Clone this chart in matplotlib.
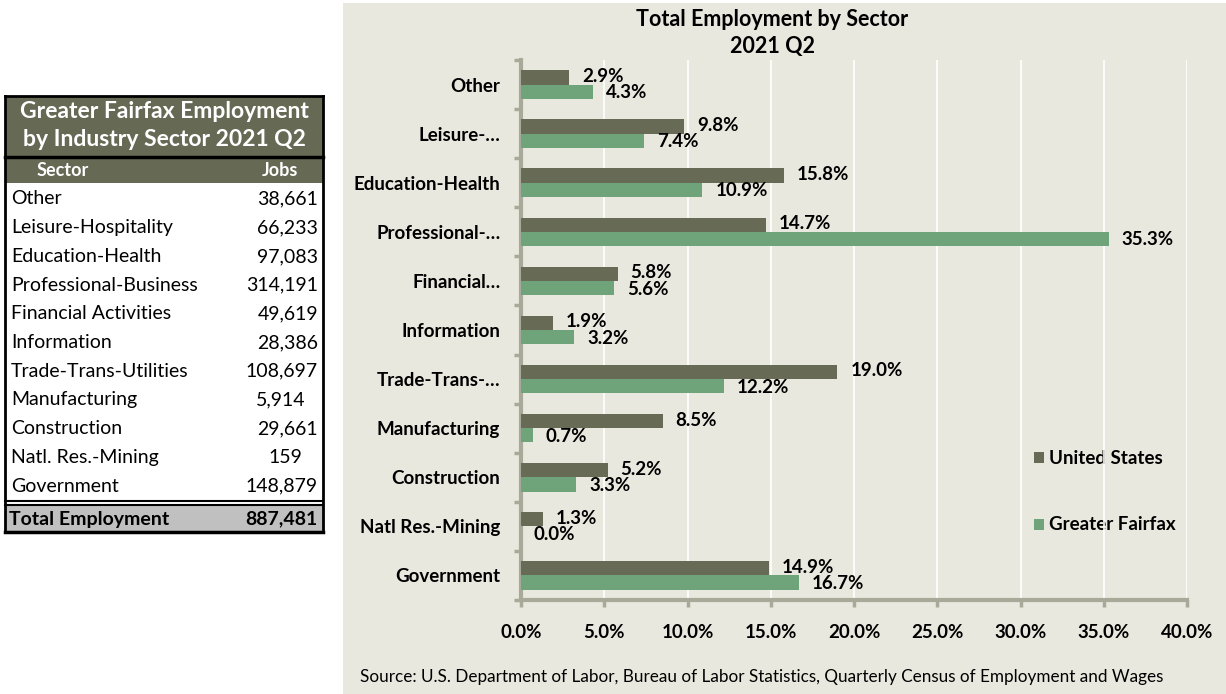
import matplotlib
matplotlib.use("Agg")
import matplotlib.pyplot as plt
from matplotlib.patches import Rectangle
import numpy as np

# ---------------- data ----------------
table_sectors = ["Other", "Leisure-Hospitality", "Education-Health", "Professional-Business",
                 "Financial Activities", "Information", "Trade-Trans-Utilities", "Manufacturing",
                 "Construction", "Natl. Res.-Mining", "Government"]
table_jobs = ["38,661", "66,233", "97,083", "314,191", "49,619", "28,386", "108,697",
              "5,914", "29,661", "159", "148,879"]
table_total = "887,481"

categories = ["Other", "Leisure-…", "Education-Health", "Professional-…", "Financial…",
              "Information", "Trade-Trans-…", "Manufacturing", "Construction",
              "Natl Res.-Mining", "Government"]
us_values = [2.9, 9.8, 15.8, 14.7, 5.8, 1.9, 19.0, 8.5, 5.2, 1.3, 14.9]
gf_values = [4.3, 7.4, 10.9, 35.3, 5.6, 3.2, 12.2, 0.7, 3.3, 0.0, 16.7]
x_ticks = [0, 5, 10, 15, 20, 25, 30, 35, 40]

# ---------------- style ----------------
plt.rcParams['font.family'] = ['Lato', 'DejaVu Sans']
W, H = 1226, 694
DARK = "#676A54"
GREEN = "#6FA47A"
BG = "#E9E8DE"
AXISC = "#A9A999"
HEAD = "#666A55"
FS = 13.5

fig = plt.figure(figsize=(W / 100, H / 100), dpi=100)

def fx(px):
    return px / W

def fy(py):
    return 1 - py / H

def rect(x0, y0, x1, y1, z=1, **kw):
    fig.patches.append(Rectangle((fx(x0), fy(y1)), fx(x1) - fx(x0), fy(y0) - fy(y1),
                                 transform=fig.transFigure, zorder=z, **kw))

# chart panel background
rect(343, 3, 1226, 694, z=-10, facecolor=BG, edgecolor="none")

# ---------------- table ----------------
tl, tr = 5, 323
rect(tl, 96, tr, 183, facecolor=HEAD, edgecolor="none")
rect(tl, 183, tr, 503, facecolor="white", edgecolor="none")
rect(tl, 505, tr, 532, facecolor="#C0C0C0", edgecolor="none")
def hline(x0, x1, yy, lw):
    fig.lines.append(plt.Line2D([fx(x0), fx(x1)], [fy(yy), fy(yy)], color="black", lw=lw,
                                transform=fig.transFigure, zorder=3))
def vline(xx, y0, y1, lw):
    fig.lines.append(plt.Line2D([fx(xx), fx(xx)], [fy(y0), fy(y1)], color="black", lw=lw,
                                transform=fig.transFigure, zorder=3))
vline(tl, 96, 532, 2)
vline(tr, 96, 532, 2)
hline(tl, tr, 96, 2)
hline(tl, tr, 157, 2.5)
hline(tl, tr, 532, 2.5)
hline(tl, tr, 501, 1.5)
hline(tl, tr, 505, 1.5)

fig.text(fx(164), fy(111), "Greater Fairfax Employment", ha="center", va="center",
         color="white", fontsize=16.5, fontweight="bold", zorder=4)
fig.text(fx(164), fy(140), "by Industry Sector 2021 Q2", ha="center", va="center",
         color="white", fontsize=16.5, fontweight="bold", zorder=4)
fig.text(fx(63), fy(171), "Sector", ha="center", va="center", color="white",
         fontsize=13, fontweight="bold", zorder=4)
fig.text(fx(298), fy(171), "Jobs", ha="right", va="center", color="white",
         fontsize=13, fontweight="bold", zorder=4)
row_h = 28.7
for i, (s, j) in enumerate(zip(table_sectors, table_jobs)):
    yy = 199 + i * row_h
    fig.text(fx(11), fy(yy), s, ha="left", va="center", fontsize=14, zorder=4)
    if len(j) <= 3:
        fig.text(fx(285), fy(yy), j, ha="center", va="center", fontsize=14, zorder=4)
    elif len(j) == 5:
        fig.text(fx(281), fy(yy), j, ha="center", va="center", fontsize=14, zorder=4)
    else:
        fig.text(fx(318), fy(yy), j, ha="right", va="center", fontsize=14, zorder=4)
fig.text(fx(9), fy(519), "Total Employment", ha="left", va="center", fontsize=14,
         fontweight="bold", zorder=4)
fig.text(fx(318), fy(519), table_total, ha="right", va="center", fontsize=14,
         fontweight="bold", zorder=4)

# ---------------- chart ----------------
ax = fig.add_axes([fx(521), fy(600), fx(1187) - fx(521), fy(60) - fy(600)])
ax.set_zorder(5)
ax.patch.set_alpha(0)
n = len(categories)
y = np.arange(n)
bh = 0.29
ax.barh(y - bh / 2, us_values, height=bh, color=DARK, label="United States", zorder=3)
ax.barh(y + bh / 2, gf_values, height=bh, color=GREEN, label="Greater Fairfax", zorder=3)

ax.set_xlim(0, 40)
ax.set_ylim(n - 0.5, -0.5)
ax.set_xticks(x_ticks)
ax.set_xticklabels([f"{t:.1f}%" for t in x_ticks], fontsize=FS, fontweight="bold")
ax.set_yticks(y)
ax.set_yticklabels(categories, fontsize=FS, fontweight="bold")
ax.tick_params(axis="y", length=0, pad=15)
ax.tick_params(axis="x", length=5, width=2.5, color=AXISC, pad=12, direction="out")
ax.set_yticks(np.arange(-0.5, n, 1), minor=True)
ax.tick_params(axis="y", which="minor", length=5, width=2.5, color=AXISC, direction="out")
ax.xaxis.grid(True, color="white", lw=1.2, zorder=0)
ax.set_axisbelow(True)
for sp in ["top", "right"]:
    ax.spines[sp].set_visible(False)
for sp in ["left", "bottom"]:
    ax.spines[sp].set_color(AXISC)
    ax.spines[sp].set_linewidth(3)

for i in range(n):
    ax.annotate(f"{us_values[i]:.1f}%", (us_values[i], y[i] - bh / 2), xytext=(13, 1),
                textcoords="offset pixels", ha="left", va="center", fontsize=FS,
                fontweight="bold", zorder=5)
    ax.annotate(f"{gf_values[i]:.1f}%", (gf_values[i], y[i] + bh / 2), xytext=(13, -1),
                textcoords="offset pixels", ha="left", va="center", fontsize=FS,
                fontweight="bold", zorder=5)

# title
fig.text(fx(772), fy(20), "Total Employment by Sector", ha="center", va="center",
         fontsize=15.5, fontweight="bold")
fig.text(fx(772), fy(47), "2021 Q2", ha="center", va="center", fontsize=15.5, fontweight="bold")

# legend
rect(1034, 452, 1044, 463, z=2, facecolor=DARK, edgecolor="none")
fig.text(fx(1049), fy(458), "United States", ha="left", va="center", fontsize=FS, fontweight="bold")
rect(1034, 519, 1044, 530, z=2, facecolor=GREEN, edgecolor="none")
fig.text(fx(1049), fy(524), "Greater Fairfax", ha="left", va="center", fontsize=FS, fontweight="bold")

# source
fig.text(fx(360), fy(677), "Source: U.S. Department of Labor, Bureau of Labor Statistics, Quarterly Census of Employment and Wages",
         ha="left", va="center", fontsize=12.3)

fig.savefig("out.png", dpi=100)
